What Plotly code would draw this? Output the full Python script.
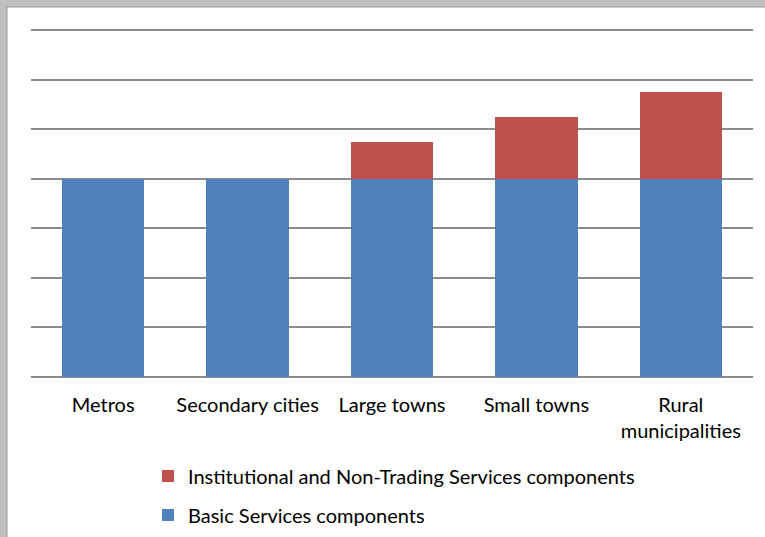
import plotly.graph_objects as go

categories = ["Metros", "Secondary cities", "Large towns", "Small towns", "Rural<br>municipalities"]
basic = [4, 4, 4, 4, 4]
institutional = [0, 0, 0.75, 1.25, 1.75]

W, H = 765, 537
L, R, T, B = 31, 12, 28, 160
pw, ph = W - L - R, H - T - B

def px2x(x):
    return (x - L) / pw

def px2y(y):
    return (H - B - y) / ph

font = dict(family="Lato, 'Open Sans', sans-serif", size=20, color="#000000")

fig = go.Figure()
fig.add_trace(go.Bar(x=categories, y=basic, name="Basic Services components",
                     marker=dict(color="#4F81BD", line=dict(width=0)), legend="legend2"))
fig.add_trace(go.Bar(x=categories, y=institutional, name="Institutional and Non-Trading Services components",
                     marker=dict(color="#C0504D", line=dict(width=0)), legend="legend"))

fig.update_layout(
    width=W, height=H, autosize=False,
    margin=dict(l=L, r=R, t=T, b=B, autoexpand=False),
    barmode="stack", bargap=0.43,
    paper_bgcolor="white", plot_bgcolor="white",
    font=font,
    showlegend=True,
    legend=dict(xref="container", yref="container", x=148 / W, y=1 - 476 / H,
                xanchor="left", yanchor="middle",
                bgcolor="rgba(0,0,0,0)", font=font, itemwidth=30),
    legend2=dict(xref="container", yref="container", x=148 / W, y=1 - 515 / H,
                 xanchor="left", yanchor="middle",
                 bgcolor="rgba(0,0,0,0)", font=font, itemwidth=30),
    xaxis=dict(showgrid=False, ticks="", ticklabelstandoff=14, tickfont=font,
               showline=False, range=[-0.5, 4.5], automargin=False),
    yaxis=dict(range=[0, 7.04], dtick=1, showticklabels=False, showgrid=True,
               gridcolor="#8c8c8c", gridwidth=1.5, zeroline=True,
               zerolinecolor="#8c8c8c", zerolinewidth=1.5, showline=False,
               automargin=False),
    shapes=[
        dict(type="rect", xref="paper", yref="paper", x0=px2x(0), x1=px2x(7), y0=px2y(537), y1=px2y(0),
             fillcolor="#c0c0c0", line=dict(width=0), layer="above"),
        dict(type="rect", xref="paper", yref="paper", x0=px2x(0), x1=px2x(765), y0=px2y(7), y1=px2y(0),
             fillcolor="#c0c0c0", line=dict(width=0), layer="above"),
        dict(type="line", xref="paper", yref="paper", x0=px2x(7), x1=px2x(7), y0=px2y(537), y1=px2y(7),
             line=dict(color="#9a9a9a", width=1), layer="above"),
        dict(type="line", xref="paper", yref="paper", x0=px2x(7), x1=px2x(765), y0=px2y(7), y1=px2y(7),
             line=dict(color="#9a9a9a", width=1), layer="above"),
    ],
)

fig.write_html("out.html", config={"displayModeBar": False},
               post_script="document.body.style.margin='0';document.body.style.overflow='hidden';")
